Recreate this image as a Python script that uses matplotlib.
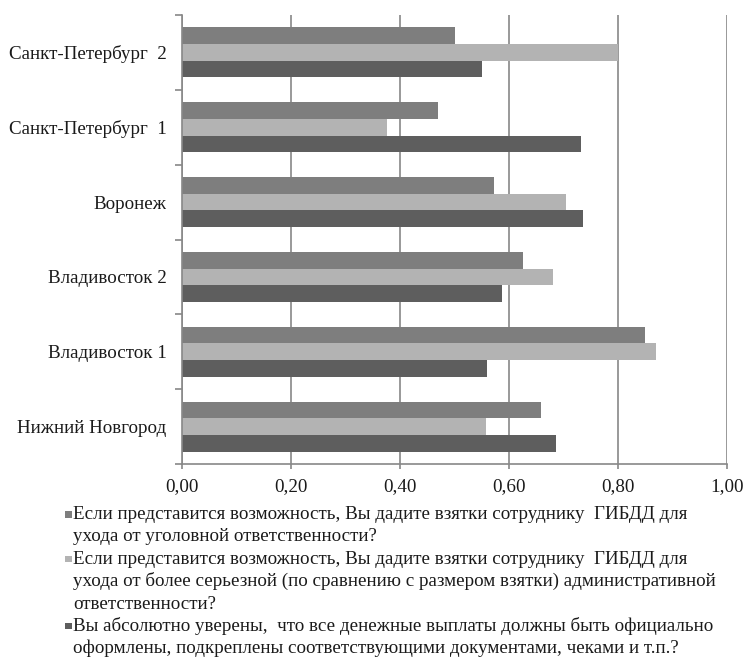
import matplotlib
matplotlib.use("Agg")
import matplotlib.pyplot as plt
from matplotlib.patches import Rectangle
from matplotlib.ticker import FuncFormatter, FixedLocator
import numpy as np

plt.rcParams['font.family'] = ['Liberation Serif', 'DejaVu Serif']

categories = ["Нижний Новгород", "Владивосток 1", "Владивосток 2", "Воронеж",
              "Санкт-Петербург  1", "Санкт-Петербург  2"]
series_labels = [
    ["Если представится возможность, Вы дадите взятки сотруднику  ГИБДД для",
     "ухода от уголовной ответственности?"],
    ["Если представится возможность, Вы дадите взятки сотруднику  ГИБДД для",
     "ухода от более серьезной (по сравнению с размером взятки) административной",
     "ответственности?"],
    ["Вы абсолютно уверены,  что все денежные выплаты должны быть официально",
     "оформлены, подкреплены соответствующими документами, чеками и т.п.?"],
]
s1 = [0.658, 0.850, 0.626, 0.573, 0.470, 0.500]
s2 = [0.558, 0.870, 0.680, 0.704, 0.376, 0.800]
s3 = [0.687, 0.560, 0.588, 0.735, 0.732, 0.550]
x_ticks = [0.0, 0.2, 0.4, 0.6, 0.8, 1.0]

colors = ["#7e7e7e", "#b3b3b3", "#5e5e5e"]
W, H = 745, 657
FS = 13.7
TXT = '#1a1a1a'
GRID = '#888888'

fig = plt.figure(figsize=(W / 100, H / 100), dpi=100)
ax = fig.add_axes([182 / W, 1 - 464 / H, 545 / W, (464 - 15) / H])

y = np.arange(len(categories))
h = 0.222
for vals, off, c in zip([s1, s2, s3], [h, 0, -h], colors):
    ax.barh(y + off, vals, height=h, color=c, edgecolor='none', zorder=2)

ax.set_xlim(0, 1.0)
ax.set_ylim(-0.5, len(categories) - 0.5)
ax.xaxis.set_major_locator(FixedLocator(x_ticks))
ax.xaxis.set_major_formatter(FuncFormatter(lambda v, p: f"{v:.2f}".replace('.', ',')))
ax.grid(axis='x', color=GRID, linewidth=1.2, zorder=1)
ax.set_axisbelow(True)

ax.yaxis.set_major_locator(FixedLocator(np.arange(-0.5, len(categories), 1.0)))
ax.yaxis.set_major_formatter(FuncFormatter(lambda v, p: ""))
ax.set_yticks(y, minor=True)
ax.set_yticklabels(categories, minor=True)
ax.tick_params(axis='y', which='minor', length=0, pad=11, labelsize=FS, colors=TXT)
ax.tick_params(axis='y', which='major', length=5, width=1.2, color=GRID, direction='out')
ax.tick_params(axis='x', length=3.5, width=1.2, color=GRID, direction='out', labelsize=FS,
               labelcolor=TXT, pad=7)

for s in ['top', 'right']:
    ax.spines[s].set_visible(False)
for s in ['left', 'bottom']:
    ax.spines[s].set_color(GRID)
    ax.spines[s].set_linewidth(1.2)

# legend, drawn line by line
step = 22.4
line_y = 514.0
for lines, c in zip(series_labels, colors):
    fig.add_artist(Rectangle((65 / W, 1 - (line_y + 3.5) / H), 6.5 / W, 6.5 / H,
                             transform=fig.transFigure, facecolor=c, edgecolor='none'))
    for ln in lines:
        fig.text(73 / W, 1 - (line_y + 5) / H, ln, fontsize=FS, color=TXT,
                 ha='left', va='baseline')
        line_y += step

fig.savefig("out.png", dpi=100)
